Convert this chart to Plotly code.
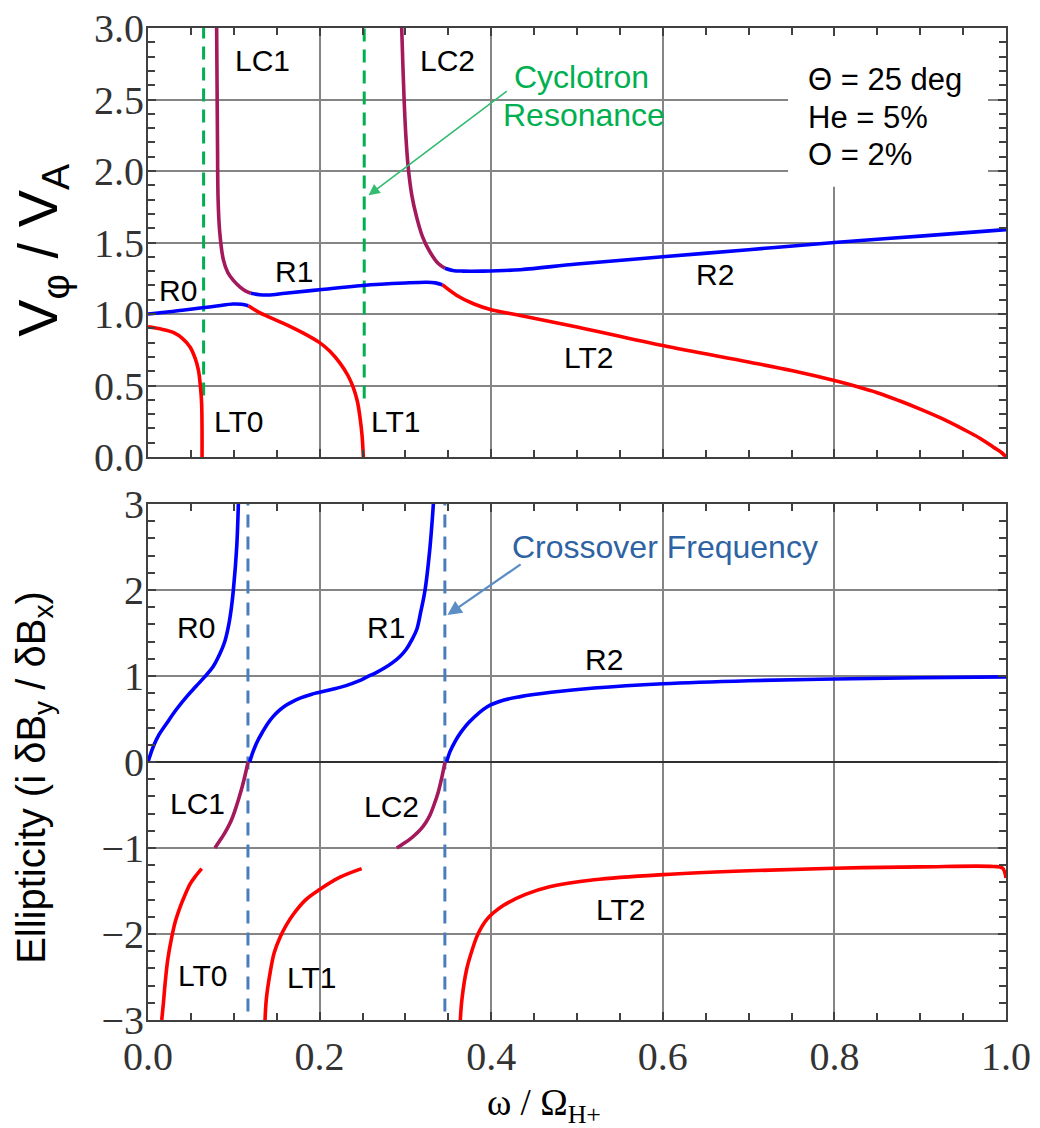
import plotly.graph_objects as go

# ---------------- DATA ----------------
# Top panel: phase velocity V_phi / V_A vs omega / Omega_H+
top_R0_x = [0.0, 0.02, 0.04, 0.061, 0.08, 0.099, 0.109, 0.117]
top_R0_y = [1.0, 1.012, 1.027, 1.042, 1.056, 1.07, 1.068, 1.058]

top_LT0_x = [0.0, 0.015, 0.03, 0.04, 0.049, 0.055, 0.0587, 0.061, 0.0625, 0.063]
top_LT0_y = [0.91, 0.895, 0.87, 0.83, 0.77, 0.69, 0.61, 0.50, 0.375, 0.0]

top_LT1_x = [0.117, 0.13, 0.158, 0.18, 0.2, 0.212, 0.224, 0.233, 0.239, 0.244, 0.247, 0.2495, 0.251]
top_LT1_y = [1.058, 1.01, 0.935, 0.87, 0.80, 0.74, 0.655, 0.57, 0.49, 0.39, 0.28, 0.15, 0.0]

top_LC1_x = [0.0800, 0.0805, 0.0810, 0.0817, 0.0835, 0.0878, 0.093, 0.0995, 0.107, 0.114, 0.12]
top_LC1_y = [3.0, 2.6, 2.2, 1.80, 1.58, 1.38, 1.29, 1.235, 1.19, 1.16, 1.145]

top_R1_x = [0.12, 0.13, 0.14, 0.16, 0.2, 0.25, 0.3, 0.325, 0.335, 0.343]
top_R1_y = [1.145, 1.135, 1.133, 1.145, 1.17, 1.20, 1.217, 1.222, 1.218, 1.205]

top_LT2_x = [0.343, 0.36, 0.38, 0.4, 0.434, 0.5, 0.6, 0.7, 0.75, 0.8, 0.825, 0.85, 0.875, 0.9, 0.925, 0.95, 0.97, 0.985, 0.995, 1.0]
top_LT2_y = [1.205, 1.13, 1.07, 1.03, 0.99, 0.91, 0.78, 0.665, 0.605, 0.535, 0.495, 0.45, 0.395, 0.335, 0.27, 0.195, 0.13, 0.07, 0.03, 0.0]

top_LC2_x = [0.2957, 0.297, 0.2985, 0.3005, 0.3032, 0.3075, 0.313, 0.32, 0.329, 0.338, 0.346]
top_LC2_y = [3.0, 2.75, 2.5, 2.25, 2.03, 1.83, 1.68, 1.54, 1.43, 1.355, 1.32]

top_R2_x = [0.346, 0.355, 0.367, 0.39, 0.434, 0.5, 0.6, 0.7, 0.8, 0.9, 1.0]
top_R2_y = [1.32, 1.305, 1.30, 1.30, 1.31, 1.35, 1.40, 1.45, 1.50, 1.545, 1.59]

cyclotron_freqs = [0.0648, 0.252]
cyclotron_ymin = [0.43, 0.41]

# Bottom panel: ellipticity vs omega / Omega_H+
bot_R0_x = [0.0, 0.0062, 0.013, 0.0218, 0.033, 0.0451, 0.056, 0.066, 0.076, 0.0839, 0.0895, 0.0936, 0.097, 0.0995, 0.1034, 0.1053]
bot_R0_y = [0.0, 0.18, 0.32, 0.45, 0.61, 0.76, 0.88, 0.99, 1.11, 1.26, 1.40, 1.57, 1.78, 2.0, 2.5, 3.0]

bot_LC1_x = [0.078, 0.082, 0.087, 0.092, 0.097, 0.1015, 0.106, 0.11, 0.1135, 0.1166]
bot_LC1_y = [-1.0, -0.94, -0.865, -0.78, -0.68, -0.56, -0.42, -0.28, -0.14, 0.0]

bot_R1_x = [0.1185, 0.121, 0.124, 0.128, 0.133, 0.139, 0.146, 0.153, 0.16, 0.168, 0.178, 0.19, 0.2, 0.215, 0.23, 0.245, 0.2555, 0.266, 0.276, 0.285, 0.294, 0.301, 0.307, 0.3132, 0.318, 0.3229, 0.3287, 0.3326]
bot_R1_y = [0.0, 0.08, 0.16, 0.25, 0.34, 0.44, 0.53, 0.60, 0.655, 0.70, 0.745, 0.785, 0.81, 0.845, 0.885, 0.94, 0.99, 1.04, 1.095, 1.155, 1.23, 1.31, 1.41, 1.54, 1.75, 2.0, 2.5, 3.0]

bot_LC2_x = [0.29, 0.297, 0.305, 0.312, 0.318, 0.324, 0.329, 0.334, 0.338, 0.342, 0.3462]
bot_LC2_y = [-1.0, -0.955, -0.9, -0.84, -0.78, -0.70, -0.61, -0.48, -0.36, -0.2, 0.0]

bot_R2_x = [0.348, 0.352, 0.358, 0.364, 0.375, 0.395, 0.415, 0.434, 0.47, 0.52, 0.6, 0.7, 0.8, 0.9, 1.0]
bot_R2_y = [0.0, 0.12, 0.24, 0.335, 0.47, 0.64, 0.72, 0.76, 0.81, 0.86, 0.91, 0.945, 0.965, 0.98, 0.99]

bot_LT0_x = [0.016, 0.018, 0.0198, 0.023, 0.0276, 0.032, 0.0373, 0.043, 0.049, 0.056, 0.0626]
bot_LT0_y = [-3.0, -2.8, -2.59, -2.3, -2.04, -1.85, -1.69, -1.55, -1.42, -1.32, -1.24]

bot_LT1_x = [0.1364, 0.138, 0.142, 0.147, 0.1538, 0.161, 0.1694, 0.184, 0.2005, 0.2238, 0.249]
bot_LT1_y = [-3.0, -2.75, -2.47, -2.22, -2.04, -1.9, -1.77, -1.6, -1.48, -1.34, -1.24]

bot_LT2_x = [0.364, 0.366, 0.3714, 0.378, 0.3846, 0.395, 0.414, 0.44, 0.468, 0.52, 0.6, 0.7, 0.8, 0.9, 0.985, 0.996, 1.0]
bot_LT2_y = [-3.0, -2.75, -2.41, -2.18, -2.0, -1.83, -1.67, -1.54, -1.45, -1.37, -1.31, -1.265, -1.235, -1.22, -1.215, -1.235, -1.35]

crossover_freqs = [0.1165, 0.346]
crossover_yrange = [-2.9, 3.0]

x_ticks = [0.0, 0.2, 0.4, 0.6, 0.8, 1.0]
top_y_ticks = [0.0, 0.5, 1.0, 1.5, 2.0, 2.5, 3.0]
bot_y_ticks = [-3, -2, -1, 0, 1, 2, 3]

# ---------------- STYLE ----------------
BLUE = '#0000ff'
RED = '#ff0000'
PURPLE = '#a3195b'
GREEN = '#00b050'
XBLUE = '#4a7ebb'
SANS = 'Liberation Sans, Arial, sans-serif'
SERIF = 'Liberation Serif, Times New Roman, serif'

fig = go.Figure()


def add_curve(x, y, color, xa, ya, width=3.6):
    fig.add_trace(go.Scatter(x=x, y=y, mode='lines', xaxis=xa, yaxis=ya,
                             line=dict(color=color, width=width, shape='spline', smoothing=1.0),
                             showlegend=False, hoverinfo='skip'))


# dashed reference lines (drawn first so curves are on top)
for f, ymin in zip(cyclotron_freqs, cyclotron_ymin):
    fig.add_trace(go.Scatter(x=[f, f], y=[ymin, 3.0], mode='lines', xaxis='x', yaxis='y',
                             line=dict(color=GREEN, width=3, dash='13px,8px'),
                             showlegend=False, hoverinfo='skip'))
for f in crossover_freqs:
    fig.add_trace(go.Scatter(x=[f, f], y=crossover_yrange, mode='lines', xaxis='x2', yaxis='y2',
                             line=dict(color=XBLUE, width=3, dash='13px,9px'),
                             showlegend=False, hoverinfo='skip'))

# top panel curves
add_curve(top_LT0_x, top_LT0_y, RED, 'x', 'y')
add_curve(top_LT1_x, top_LT1_y, RED, 'x', 'y')
add_curve(top_LT2_x, top_LT2_y, RED, 'x', 'y')
add_curve(top_LC1_x, top_LC1_y, PURPLE, 'x', 'y')
add_curve(top_LC2_x, top_LC2_y, PURPLE, 'x', 'y')
add_curve(top_R0_x, top_R0_y, BLUE, 'x', 'y')
add_curve(top_R1_x, top_R1_y, BLUE, 'x', 'y')
add_curve(top_R2_x, top_R2_y, BLUE, 'x', 'y')

# bottom panel curves
add_curve(bot_LT0_x, bot_LT0_y, RED, 'x2', 'y2')
add_curve(bot_LT1_x, bot_LT1_y, RED, 'x2', 'y2')
add_curve(bot_LT2_x, bot_LT2_y, RED, 'x2', 'y2')
add_curve(bot_LC1_x, bot_LC1_y, PURPLE, 'x2', 'y2')
add_curve(bot_LC2_x, bot_LC2_y, PURPLE, 'x2', 'y2')
add_curve(bot_R0_x, bot_R0_y, BLUE, 'x2', 'y2')
add_curve(bot_R1_x, bot_R1_y, BLUE, 'x2', 'y2')
add_curve(bot_R2_x, bot_R2_y, BLUE, 'x2', 'y2')

axis_common = dict(
    showline=True, linecolor='#404040', linewidth=2, mirror='ticks',
    ticks='inside', ticklen=8, tickwidth=1.5, tickcolor='#404040',
    showgrid=True, gridcolor='#858585', gridwidth=1.8, zeroline=False,
    automargin=False,
    tickfont=dict(family=SERIF, size=40, color='#333333'),
)

fig.update_layout(
    width=1040, height=1128,
    margin=dict(l=148, r=34, t=28, b=108),
    paper_bgcolor='white', plot_bgcolor='white',
    showlegend=False,
    xaxis=dict(domain=[0, 1], anchor='y', range=[0, 1], tickvals=x_ticks,
               showticklabels=False,
               minor=dict(ticks='inside', ticklen=7, tickcolor='#404040', dtick=0.05, tick0=0, showgrid=False),
               **axis_common),
    yaxis=dict(domain=[0.5675, 1], anchor='x', range=[0, 3], tickvals=top_y_ticks, tickformat='.1f',
               ticklabelstandoff=-6,
               minor=dict(ticks='inside', ticklen=7, tickcolor='#404040', dtick=0.1, tick0=0, showgrid=False),
               **axis_common),
    xaxis2=dict(domain=[0, 1], anchor='y2', range=[0, 1], tickvals=x_ticks, tickformat='.1f',
                ticklabelstandoff=0,
                minor=dict(ticks='inside', ticklen=7, tickcolor='#404040', dtick=0.05, tick0=0, showgrid=False),
                **axis_common),
    yaxis2=dict(domain=[0, 0.5202], anchor='x2', range=[-3, 3], tickvals=bot_y_ticks, tickformat='d',
                ticklabelstandoff=-6,
                minor=dict(ticks='inside', ticklen=7, tickcolor='#404040', dtick=0.2, tick0=0, showgrid=False),
                **axis_common),
)
fig.update_yaxes(zeroline=True, zerolinecolor='#303030', zerolinewidth=2, selector=dict(anchor='x2'))

# white box behind parameter text (hides grid lines)
fig.add_shape(type='rect', xref='x', yref='y', x0=0.746, x1=0.979, y0=1.89, y1=2.99,
              fillcolor='white', line=dict(width=0), layer='between')

ann = []


def label(text, x, y, xref='x', yref='y', size=30, color='black', family=SANS, xanchor='center'):
    ann.append(dict(text=text, x=x, y=y, xref=xref, yref=yref, showarrow=False,
                    font=dict(family=family, size=size, color=color), xanchor=xanchor, yanchor='middle'))


# top labels
label('LC1', 0.1329, 2.776)
label('LC2', 0.3485, 2.776)
label('R0', 0.035, 1.168)
label('R1', 0.170, 1.30)
label('LT0', 0.106, 0.252)
label('LT1', 0.288, 0.252)
label('R2', 0.661, 1.273)
label('LT2', 0.513, 0.699)
label('Cyclotron', 0.505, 2.66, size=32, color=GREEN)
label('Resonance', 0.508, 2.39, size=32, color=GREEN)
label('\u0398 = 25 deg', 0.767, 2.64, xanchor='left', size=31)
label('He = 5%', 0.767, 2.375, xanchor='left', size=31)
label('O = 2%', 0.767, 2.115, xanchor='left', size=31)

# bottom labels
label('R0', 0.056, 1.558, 'x2', 'y2')
label('R1', 0.277, 1.558, 'x2', 'y2')
label('LC1', 0.058, -0.477, 'x2', 'y2')
label('LC2', 0.284, -0.523, 'x2', 'y2')
label('R2', 0.531, 1.186, 'x2', 'y2')
label('LT0', 0.063, -2.477, 'x2', 'y2')
label('LT1', 0.190, -2.5, 'x2', 'y2')
label('LT2', 0.551, -1.72, 'x2', 'y2')
label('Crossover Frequency', 0.6026, 2.5, 'x2', 'y2', size=32, color='#2e63a3')

# arrows
ann.append(dict(x=0.257, y=1.83, ax=0.42, ay=2.566, xref='x', yref='y', axref='x', ayref='y',
                text='', showarrow=True, arrowhead=2, arrowsize=1.4, arrowwidth=1.6, arrowcolor='#33bb6f'))
ann.append(dict(x=0.349, y=1.71, ax=0.436, ay=2.31, xref='x2', yref='y2', axref='x2', ayref='y2',
                text='', showarrow=True, arrowhead=2, arrowsize=1.3, arrowwidth=2.2, arrowcolor='#5b8ec5'))

# axis titles
ann.append(dict(text='V<sub>\u03c6</sub> / V<sub>A</sub>', x=-0.124, y=0.776, xref='paper', yref='paper',
                showarrow=False, textangle=-90, font=dict(family=SANS, size=56, color='black'),
                xanchor='center', yanchor='middle'))
ann.append(dict(text='Ellipticity (i \u03b4B<sub>y</sub> / \u03b4B<sub>x</sub>)', x=-0.133, y=0.245,
                xref='paper', yref='paper', showarrow=False, textangle=-90,
                font=dict(family=SANS, size=40, color='black'), xanchor='center', yanchor='middle'))
ann.append(dict(text='\u03c9 / \u03a9<sub>H+</sub>', x=0.462, y=-0.086, xref='paper', yref='paper',
                showarrow=False, font=dict(family=SERIF, size=37, color='black'),
                xanchor='center', yanchor='middle'))

fig.update_layout(annotations=ann)
fig.write_html('out.html')
